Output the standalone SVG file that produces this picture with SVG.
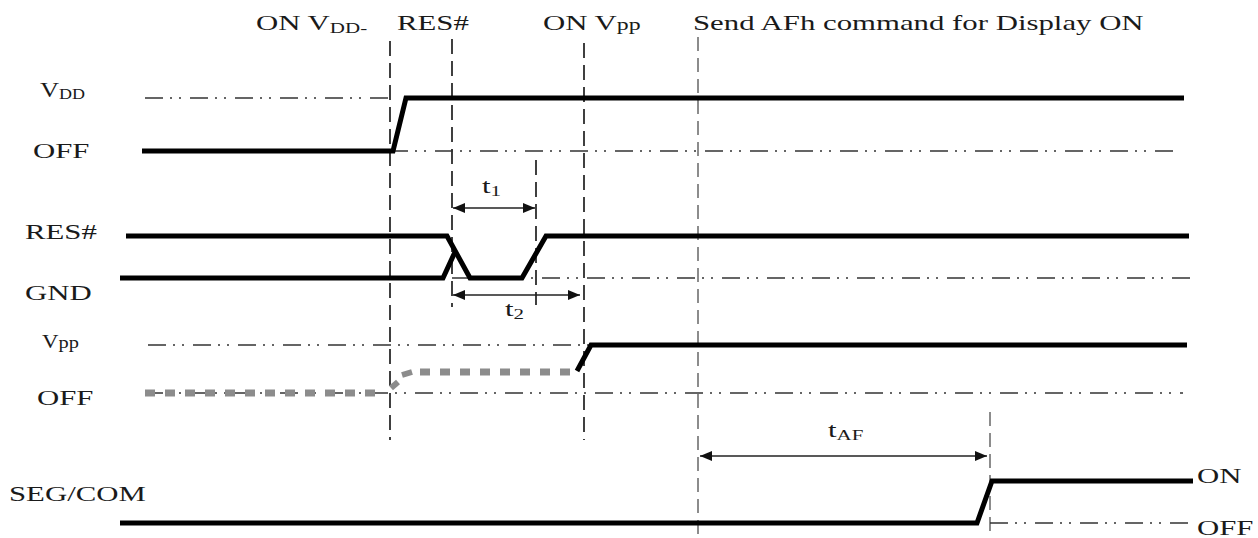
<svg xmlns="http://www.w3.org/2000/svg" width="1258" height="538" viewBox="0 0 1258 538">
<defs>
<style>
.t{font-family:"Liberation Serif","Times New Roman",serif;font-size:22px;fill:#1a1a1a}
.sub{font-size:15px}
.sig{fill:none;stroke:#000;stroke-width:5;stroke-linejoin:miter}
.dd{fill:none;stroke:#333;stroke-width:1.6;stroke-dasharray:18 7 2 7 2 9}
.vd{fill:none;stroke:#111;stroke-width:1.6;stroke-dasharray:15 7}
.vg{fill:none;stroke:#8c8c8c;stroke-width:2;stroke-dasharray:14 7}
.gray{fill:none;stroke:#8c8c8c;stroke-width:7;stroke-dasharray:10 10}
.gsolid{fill:none;stroke:#8c8c8c;stroke-width:6}
.arr{fill:none;stroke:#222;stroke-width:1.6;marker-start:url(#ah);marker-end:url(#ah)}
</style>
<marker id="ah" viewBox="0 0 12 10" refX="12" refY="5" markerWidth="12" markerHeight="10" markerUnits="userSpaceOnUse" orient="auto-start-reverse">
<path d="M0,0 L12,5 L0,10 Z" fill="#111"/>
</marker>
</defs>
<rect width="1258" height="538" fill="#fff"/>

<g id="guides">
<line class="vd" x1="390" y1="41" x2="390" y2="440"/>
<line class="vd" x1="452" y1="39" x2="452" y2="307"/>
<line class="vd" x1="536" y1="160" x2="536" y2="305"/>
<line class="vd" x1="584" y1="43" x2="584" y2="440"/>
<line class="vg" x1="698" y1="37" x2="698" y2="538"/>
<line class="vg" x1="990" y1="412" x2="990" y2="538"/>
<line class="dd" x1="145" y1="98" x2="392" y2="98"/>
<line class="dd" x1="390" y1="151" x2="1173" y2="151"/>
<line class="dd" x1="452" y1="278" x2="1194" y2="278"/>
<line class="dd" x1="148" y1="345" x2="1187" y2="345"/>
<line class="dd" x1="145" y1="393" x2="1183" y2="393"/>
<line class="dd" x1="990" y1="523" x2="1188" y2="523"/>
</g>

<g id="vdd">
<path class="sig" d="M142,151 L393,151 L406,98 L1184,98"/>
</g>

<g id="res">
<path class="sig" d="M126,236 L447,236 L470,278 L522,278 L546,236 L1189,236"/>
<path class="sig" d="M120,278 L443,278 L455,252"/>
</g>

<g id="vpp">
<path class="gray" d="M145,393 L385,393"/>
<path class="gsolid" d="M391,388 L398,382"/>
<path class="gsolid" d="M402,375 L412,372"/>
<path class="gray" d="M420,372 L576,372"/>
<path class="sig" d="M577,371 L591,345 L1187,345"/>
</g>

<g id="segcom">
<path class="sig" d="M120,523 L977,523 L992,481 L1193,481"/>
</g>

<g id="connectors">
<line class="arr" x1="453" y1="208" x2="535" y2="208"/>
<line class="arr" x1="453" y1="295" x2="580" y2="295"/>
<line class="arr" x1="700" y1="456" x2="987" y2="456"/>
</g>

<g id="labels">
<text class="t" transform="translate(256,30) scale(1.4,1)">ON V<tspan class="sub" dy="3">DD-</tspan></text>
<text class="t" transform="translate(397,30) scale(1.4,1)">RES#</text>
<text class="t" transform="translate(543,30) scale(1.4,1)">ON V<tspan font-size="17">pp</tspan></text>
<text class="t" transform="translate(693,30) scale(1.4,1)">Send AFh command for Display ON</text>
<text class="t" transform="translate(40,97) scale(1.2,1)">V<tspan class="sub" dy="2">DD</tspan></text>
<text class="t" transform="translate(33,158) scale(1.4,1)">OFF</text>
<text class="t" transform="translate(25,239) scale(1.4,1)">RES#</text>
<text class="t" transform="translate(25,300) scale(1.4,1)">GND</text>
<text class="t" transform="translate(42,348) scale(1.2,1)"><tspan font-size="19">V</tspan><tspan font-size="17">pp</tspan></text>
<text class="t" transform="translate(37,405) scale(1.4,1)">OFF</text>
<text class="t" transform="translate(9,501) scale(1.4,1)">SEG/COM</text>
<text class="t" transform="translate(1197,483) scale(1.4,1)">ON</text>
<text class="t" transform="translate(1197,535) scale(1.4,1)">OFF</text>
<text class="t" transform="translate(482,193) scale(1.4,1)">t<tspan class="sub" dy="3">1</tspan></text>
<text class="t" transform="translate(505,316) scale(1.4,1)">t<tspan class="sub" dy="3">2</tspan></text>
<text class="t" transform="translate(828,437) scale(1.4,1)">t<tspan class="sub" dy="3">AF</tspan></text>
</g>
</svg>
